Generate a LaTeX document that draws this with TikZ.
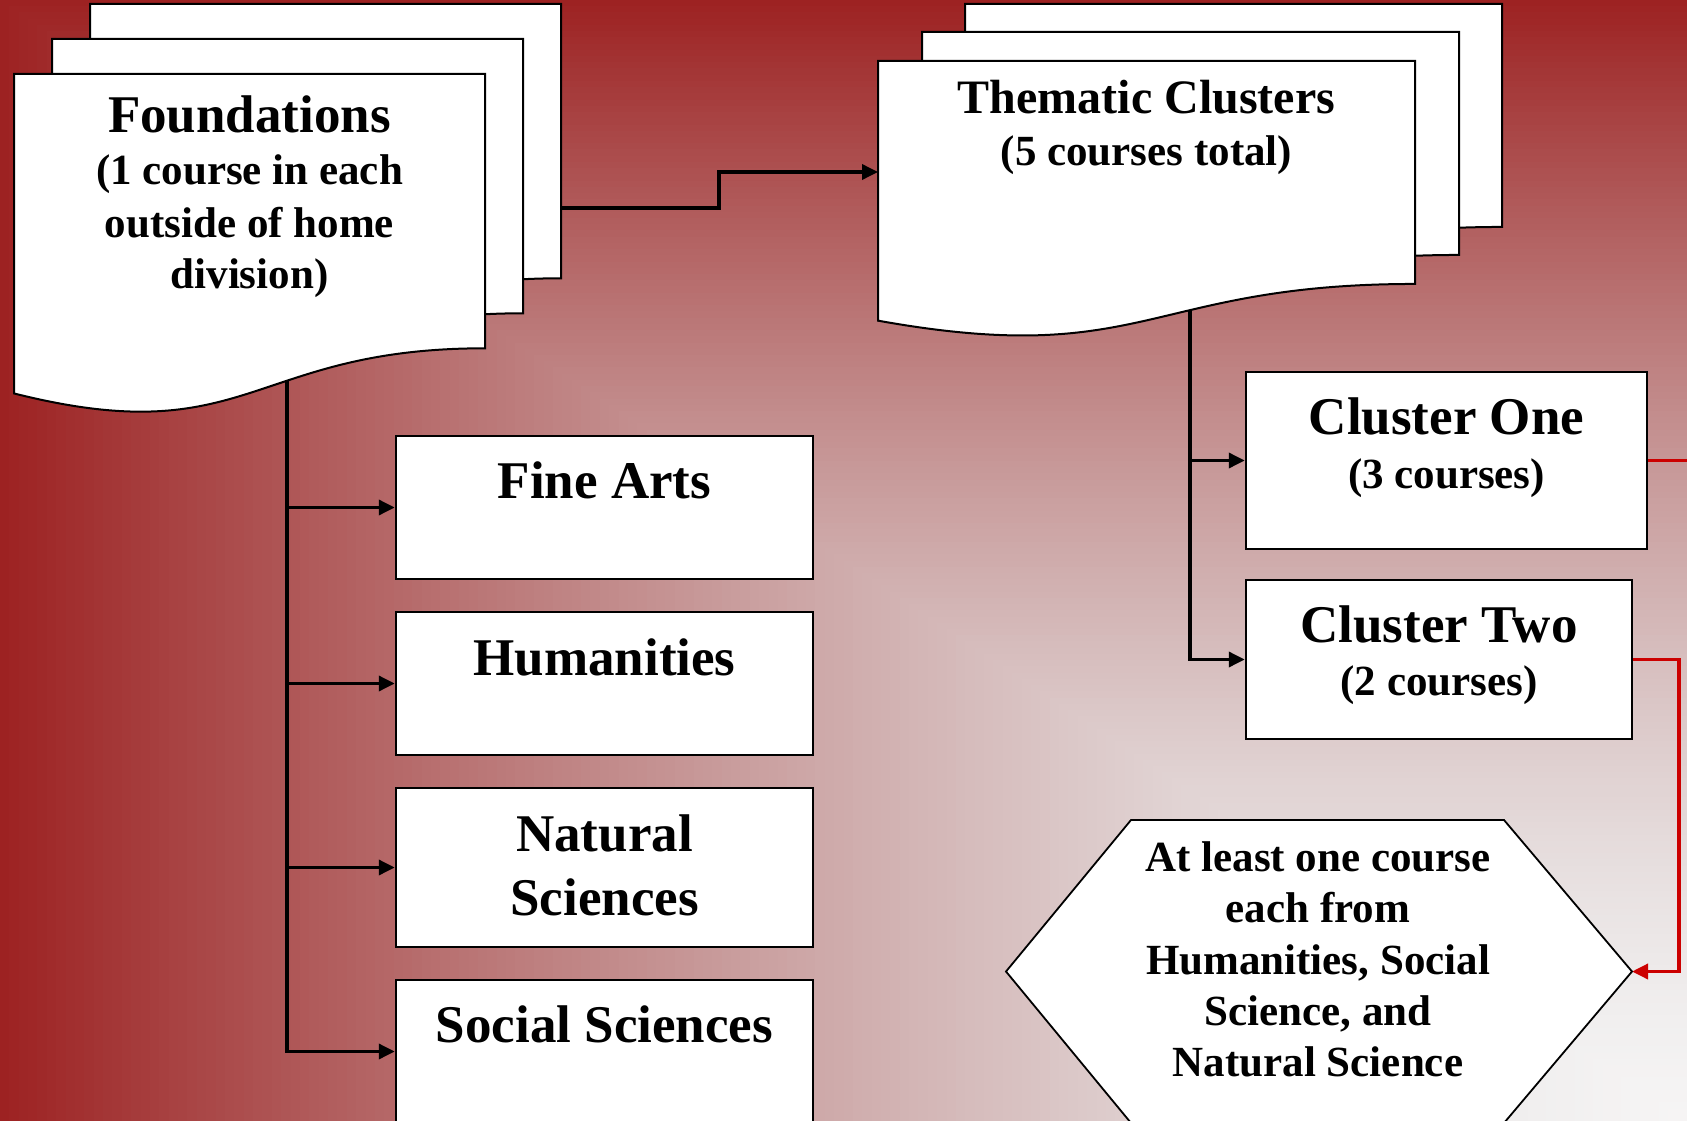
\documentclass[tikz,border=0pt]{standalone}
\usepackage{fontspec}
\setmainfont{Liberation Serif}
\usetikzlibrary{arrows.meta}
\definecolor{redline}{RGB}{204,0,0}
\pgfdeclarelayer{back}
\pgfdeclarelayer{mid}
\pgfsetlayers{back,mid,main}
% document sheet: name, x, y (top-left), w, h
\newcommand\docsheet[5]{%
  \coordinate (#1) at (#2,#3);
  \filldraw[sheet] (#2,#3) -- ({#2+#4},#3) -- ({#2+#4},{#3+0.802*#5})
    .. controls ({#2+0.5*#4},{#3+0.802*#5}) and ({#2+0.5*#4},{#3+1.1075*#5}) ..
    (#2,{#3+0.934*#5}) -- cycle;}
\tikzset{
  sheet/.style={fill=white, draw=black, line width=2pt},
  box/.style={draw=black, fill=white, line width=2.5pt, inner sep=0pt, rectangle},
  conn/.style={draw=black, line width=3.5pt, -{Triangle[length=16pt,width=15pt]}},
  redconn/.style={draw=redline, line width=3.5pt},
  redarrow/.style={draw=redline, line width=3.5pt, -{Triangle[length=16pt,width=15pt]}},
  ttl/.style={font=\fontsize{53}{64}\selectfont\bfseries, anchor=base, inner sep=0pt},
  ttlb/.style={font=\fontsize{48}{58}\selectfont\bfseries, anchor=base, inner sep=0pt},
  sub/.style={font=\fontsize{43}{52}\selectfont\bfseries, anchor=base, inner sep=0pt},
}
\begin{document}
\begin{tikzpicture}[x=1pt,y=-1pt]
\useasboundingbox (0,0) rectangle (1687,1121);
\begin{scope}
\clip (0,0) rectangle (1687,1121);
% background gradient from bottom-right corner
\begin{pgfonlayer}{back}
\foreach \i in {0,...,179}{
  \pgfmathsetmacro\tv{1-\i/180}
  \pgfmathtruncatemacro\rv{round(246-89*pow(\tv,1.2))}
  \pgfmathtruncatemacro\gv{round(244-210*pow(\tv,1.55))}
  \definecolor{bgc}{RGB}{\rv,\gv,\gv}
  \fill[bgc] ({1687*(1-\tv)},{1121*(1-\tv)}) rectangle (1690,1125);
}
\end{pgfonlayer}

% Foundations stack
\docsheet{fndback}{90}{4}{471}{342}
\docsheet{fndmid}{52}{39}{471}{342}
\docsheet{fndfront}{14}{74}{471}{342}
\node[ttl] (fndT) at (249.5,133) {Foundations};
\node[sub] (fndS1) at (249.5,185) {(1 course in each};
\node[sub] (fndS2) at (249.5,237) {outside of home};
\node[sub] (fndS3) at (249.5,288) {division)};

% Thematic stack
\docsheet{thmback}{965}{4}{537}{278}
\docsheet{thmmid}{922}{32}{537}{278}
\docsheet{thmfront}{878}{61}{537}{278}
\node[ttlb] (thmT) at (1146.5,114) {Thematic Clusters};
\node[sub] (thmS) at (1146.5,166) {(5 courses total)};

% left boxes
\node[box, minimum width=417pt, minimum height=143pt] (fine) at (604.5,507.5) {};
\node[box, minimum width=417pt, minimum height=143pt] (hum) at (604.5,683.5) {};
\node[box, minimum width=417pt, minimum height=159pt] (nat) at (604.5,867.5) {};
\node[box, minimum width=417pt, minimum height=143pt] (soc) at (604.5,1051.5) {};
\node[ttl] (fineT) at (604.5,498) {Fine Arts};
\node[ttl] (humT) at (604.5,675) {Humanities};
\node[ttl] (natT1) at (604.5,851) {Natural};
\node[ttl] (natT2) at (604.5,915) {Sciences};
\node[ttl] (socT) at (604.5,1042) {Social Sciences};

% cluster boxes
\node[box, minimum width=401pt, minimum height=177pt] (c1) at (1446.5,460.5) {};
\node[box, minimum width=386pt, minimum height=159pt] (c2) at (1439,659.5) {};
\node[ttl] (c1T) at (1446.5,434) {Cluster One};
\node[sub] (c1S) at (1446.5,488) {(3 courses)};
\node[ttl] (c2T) at (1439,642) {Cluster Two};
\node[sub] (c2S) at (1439,695) {(2 courses)};

% hexagon
\coordinate (hexL) at (1006,971.5);
\coordinate (hexTL) at (1131,820);
\coordinate (hexTR) at (1504,820);
\coordinate (hexR) at (1632,971.5);
\coordinate (hexBR) at (1504,1123);
\coordinate (hexBL) at (1131,1123);
\filldraw[fill=white, draw=black, line width=1.8pt] (hexL) -- (hexTL) -- (hexTR) -- (hexR) -- (hexBR) -- (hexBL) -- cycle;
\node[sub] (hx1) at (1318,871) {At least one course};
\node[sub] (hx2) at (1318,922) {each from};
\node[sub] (hx3) at (1318,974) {Humanities, Social};
\node[sub] (hx4) at (1318,1025) {Science, and};
\node[sub] (hx5) at (1318,1076) {Natural Science};

% connectors
\coordinate (fndR) at (561,208);
\coordinate (fndBend) at (719,190);
\coordinate (thmL) at (878,172);
\coordinate (fndTrunk) at (287,370);
\coordinate (thmTrunk) at (1190,300);
\coordinate (offR) at (1700,460.5);
\coordinate (redX) at (1679,0);
\begin{pgfonlayer}{mid}
\draw[conn] (fndR) -| (fndBend) |- (thmL);
\draw[conn] (fndTrunk) -- (fndTrunk |- soc.west) -- (soc.west);
\draw[conn] (fndTrunk |- fine.west) -- (fine.west);
\draw[conn] (fndTrunk |- hum.west) -- (hum.west);
\draw[conn] (fndTrunk |- nat.west) -- (nat.west);
\draw[conn] (thmTrunk) -- (thmTrunk |- c2.west) -- (c2.west);
\draw[conn] (thmTrunk |- c1.west) -- (c1.west);
\draw[redconn] (c1.east) -- (offR);
\draw[redarrow] (c2.east) -- (c2.east -| redX) -- (redX |- hexR) -- (hexR);
\end{pgfonlayer}
\end{scope}
\end{tikzpicture}
\end{document}
